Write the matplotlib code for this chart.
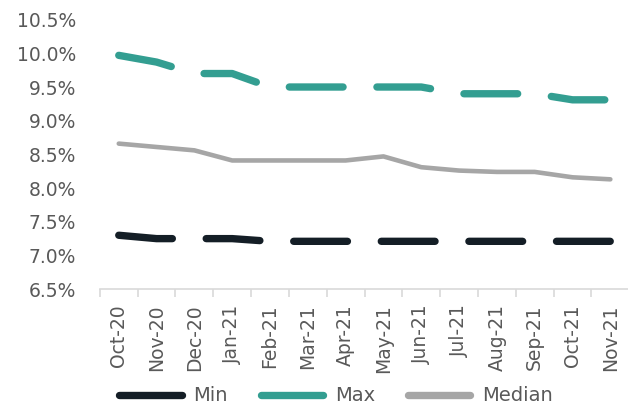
import matplotlib
matplotlib.use("Agg")
import matplotlib.pyplot as plt
from matplotlib.lines import Line2D
from matplotlib.ticker import FuncFormatter, FixedLocator

# --------------------------------------------------------------------------
# Data (in %)
# --------------------------------------------------------------------------
months = ["Oct-20", "Nov-20", "Dec-20", "Jan-21", "Feb-21", "Mar-21", "Apr-21",
          "May-21", "Jun-21", "Jul-21", "Aug-21", "Sep-21", "Oct-21", "Nov-21"]
min_rate = [7.30, 7.25, 7.25, 7.25, 7.21, 7.21, 7.21,
            7.21, 7.21, 7.21, 7.21, 7.21, 7.21, 7.21]
max_rate = [9.97, 9.87, 9.70, 9.70, 9.50, 9.50, 9.50,
            9.50, 9.50, 9.40, 9.40, 9.40, 9.31, 9.31]
median_rate = [8.66, 8.61, 8.56, 8.41, 8.41, 8.41, 8.41,
               8.47, 8.31, 8.26, 8.24, 8.24, 8.16, 8.13]

C_MIN = "#141e26"
C_MAX = "#339e91"
C_MED = "#a6a6a6"
C_TXT = "#595959"

plt.rcParams["font.family"] = ["DejaVu Sans"]

fig = plt.figure(figsize=(6.28, 4.09), dpi=100)
ax = fig.add_axes([0.159, 0.293, 0.843, 0.659])

x = list(range(len(months)))
dash = (0, (7.3, 4.6))
ax.plot(x, min_rate, color=C_MIN, linewidth=5.3, linestyle=dash,
        dash_capstyle="round", solid_capstyle="round", zorder=3)
ax.plot(x, max_rate, color=C_MAX, linewidth=5.3, linestyle=dash,
        dash_capstyle="round", solid_capstyle="round", zorder=3)
ax.plot(x, median_rate, color=C_MED, linewidth=3.3,
        solid_capstyle="round", solid_joinstyle="round", zorder=2)

ax.set_xlim(-0.5, len(months) - 0.5)
ax.set_ylim(6.5, 10.5)
ax.set_yticks([6.5 + 0.5 * i for i in range(9)])
ax.yaxis.set_major_formatter(FuncFormatter(lambda v, _: f"{v:.1f}%"))

ax.set_xticks(x)
ax.set_xticklabels(months, rotation=90)
ax.xaxis.set_minor_locator(FixedLocator([i - 0.5 for i in range(len(months) + 1)]))
ax.tick_params(axis="x", which="major", length=0, pad=11,
               labelsize=13.5, labelcolor=C_TXT)
ax.tick_params(axis="x", which="minor", length=6, width=1.2, color="#d9d9d9")
ax.tick_params(axis="y", length=0, pad=17, labelsize=13.5, labelcolor=C_TXT)

for side in ("top", "right", "left"):
    ax.spines[side].set_visible(False)
ax.spines["bottom"].set_color("#d9d9d9")
ax.spines["bottom"].set_linewidth(1.2)

handles = [
    Line2D([], [], color=C_MIN, linewidth=5.3, solid_capstyle="round"),
    Line2D([], [], color=C_MAX, linewidth=5.3, solid_capstyle="round"),
    Line2D([], [], color=C_MED, linewidth=5.3, solid_capstyle="round"),
]
fig.legend(handles, ["Min", "Max", "Median"], loc="center",
           bbox_to_anchor=(0.535, 0.032), ncol=3, frameon=False,
           fontsize=14, labelcolor=C_TXT, handlelength=3.2,
           handletextpad=0.6, columnspacing=1.7)

fig.savefig("out.png", dpi=100)
